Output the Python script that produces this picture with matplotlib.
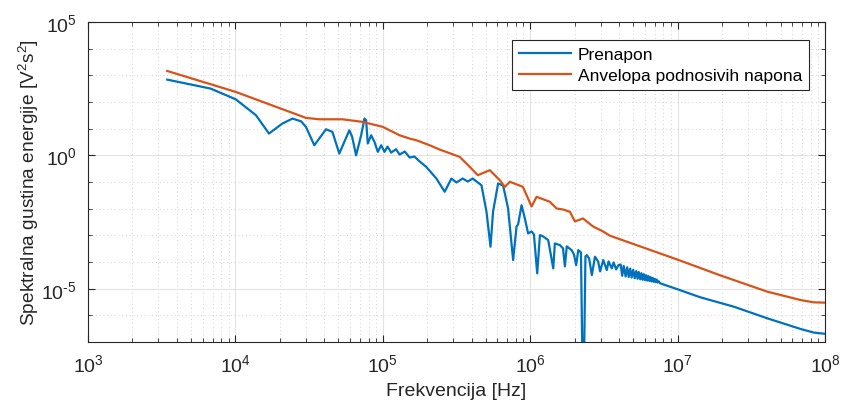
import matplotlib
matplotlib.use("Agg")
import matplotlib.pyplot as plt
from matplotlib.ticker import FixedLocator, FixedFormatter, NullFormatter

plt.rcParams['font.family'] = ['Liberation Sans', 'DejaVu Sans']
plt.rcParams['mathtext.fontset'] = 'custom'
plt.rcParams['mathtext.rm'] = 'Liberation Sans'
plt.rcParams['mathtext.it'] = 'Liberation Sans:italic'
plt.rcParams['axes.unicode_minus'] = False

# ---- data ----
f_prenapon = [3.45e3, 6.80e3, 1.006e4, 1.38e4, 1.69e4, 2.08e4, 2.44e4, 2.79e4, 3.01e4, 3.43e4,
              4.12e4, 4.55e4, 5.07e4, 5.93e4, 6.19e4, 6.59e4, 7.13e4, 7.51e4, 7.71e4, 7.91e4,
              8.34e4, 8.78e4, 9.25e4, 9.75e4, 1.027e5, 1.076e5, 1.14e5, 1.23e5, 1.30e5, 1.41e5,
              1.52e5, 1.64e5, 1.78e5, 1.97e5, 2.31e5, 2.63e5, 2.92e5, 3.16e5, 3.48e5, 3.77e5,
              4.07e5, 4.67e5, 5.05e5, 5.38e5, 5.6e5, 6.06e5, 6.55e5, 7.08e5, 7.66e5, 8.08e5,
              8.28e5, 8.74e5, 9.2e5, 9.68e5, 1.022e6, 1.06e6, 1.116e6, 1.164e6, 1.225e6, 1.325e6,
              1.434e6, 1.47e6, 1.59e6, 1.67e6, 1.72e6, 1.77e6, 1.91e6, 1.98e6, 2.05e6, 2.12e6,
              2.21e6, 2.29e6, 2.37e6, 2.42e6, 2.51e6, 2.62e6, 2.75e6, 2.89e6, 2.98e6, 3.13e6,
              3.31e6, 3.40e6, 3.58e6, 3.68e6, 3.83e6, 3.97e6,
              4.11e6, 4.21e6, 4.31e6, 4.44e6, 4.55e6, 4.66e6, 4.77e6, 4.88e6, 5.00e6, 5.12e6,
              5.24e6, 5.35e6, 5.45e6, 5.58e6, 5.68e6, 5.79e6, 5.90e6, 6.01e6, 6.12e6, 6.23e6,
              6.34e6, 6.45e6, 6.56e6, 6.68e6, 6.78e6, 6.89e6, 7.00e6, 7.11e6, 7.22e6, 7.33e6,
              7.45e6, 7.63e6,
              9.9e6, 1.43e7, 2.40e7, 4.06e7, 6.84e7, 8.41e7, 1.0e8]
s_prenapon = [690, 318, 126, 31.8, 6.55, 15.5, 23.9, 18.9, 11.7, 2.39,
              9.5, 7.59, 1.17, 8.71, 5.06, 1.0, 5.66, 23.9, 20.6, 2.77,
              5.66, 3.2, 1.35, 2.39, 1.35, 2.13, 1.27, 1.69, 1.07, 1.39,
              0.83, 0.90, 0.586, 0.371, 0.135, 0.043, 0.135, 0.0958, 0.135, 0.104,
              0.135, 0.0759, 0.00785, 3.74e-4, 0.00785, 0.0879, 0.074, 0.0102, 1.18e-4, 2.15e-3,
              2.56e-3, 0.0135, 4.3e-3, 1.18e-3, 1.4e-3, 1.08e-3, 3.74e-5, 1.02e-3, 9.1e-4, 6.6e-4,
              5.75e-5, 4.97e-4, 4.3e-4, 3.23e-4, 6.84e-5, 3.84e-4, 2.79e-4, 1.93e-4, 7.65e-5, 2.79e-4,
              2.29e-4, 1e-10, 1.62e-4, 1.81e-4, 1.36e-4, 3.23e-5, 1.58e-4, 1.05e-4, 4.45e-5, 1.18e-4,
              4.98e-5, 1.05e-4, 5.75e-5, 9.66e-5, 5.28e-5, 7.65e-5,
              8.0e-5, 3.04e-5, 7.14e-5, 2.86e-5, 6.33e-5, 2.74e-5, 5.66e-5, 2.61e-5, 5.1e-5, 2.47e-5,
              4.56e-5, 2.35e-5, 4.19e-5, 2.25e-5, 3.81e-5, 2.15e-5, 3.49e-5, 2.08e-5, 3.2e-5, 2.0e-5,
              2.96e-5, 1.93e-5, 2.72e-5, 1.86e-5, 2.54e-5, 1.8e-5, 2.35e-5, 1.75e-5, 2.19e-5, 1.69e-5,
              1.88e-5, 1.58e-5,
              9.66e-6, 4.72e-6, 2.12e-6, 7.72e-7, 3.07e-7, 2.25e-7, 2.03e-7]

f_anvelopa = [3.45e3, 1.006e4, 3.01e4, 3.71e4, 5.32e4, 7.28e4, 1.0e5, 1.30e5, 1.52e5, 1.69e5,
              2.08e5, 2.43e5, 3.32e5, 3.89e5, 4.41e5, 5.32e5, 6.22e5, 6.73e5, 7.28e5, 8.92e5,
              1.022e6, 1.105e6, 1.36e6, 1.51e6, 1.67e6, 1.86e6, 2.01e6, 2.28e6, 2.67e6, 3.12e6,
              3.48e6, 9.9e6, 1.95e7, 4.06e7, 6.84e7, 8.38e7, 1.0e8]
s_anvelopa = [1460, 239, 25.4, 22.5, 22.5, 18.0, 11.7, 5.66, 4.26, 3.68,
              2.39, 1.65, 0.879, 0.371, 0.180, 0.277, 0.117, 0.066, 0.102, 0.066,
              0.0121, 0.0279, 0.0181, 0.0102, 0.0093, 0.00766, 0.00332, 0.0043, 0.00215, 0.0014,
              9.66e-4, 1.25e-4, 3.15e-5, 7.72e-6, 3.74e-6, 3.07e-6, 2.99e-6]

x_ticks = [1e3, 1e4, 1e5, 1e6, 1e7, 1e8]
x_ticklabels = [r'$\mathregular{10^{3}}$', r'$\mathregular{10^{4}}$', r'$\mathregular{10^{5}}$',
                r'$\mathregular{10^{6}}$', r'$\mathregular{10^{7}}$', r'$\mathregular{10^{8}}$']
y_ticks = [1e-5, 1e0, 1e5]
y_ticklabels = [r'$\mathregular{10^{\text{-}5}}$', r'$\mathregular{10^{0}}$', r'$\mathregular{10^{5}}$']

labels = ['Prenapon', 'Anvelopa podnosivih napona']
colors = ['#0072BD', '#D95319']
txt = '#262626'

fig = plt.figure(figsize=(8.42, 4.06), dpi=100)
ax = fig.add_axes([0.1045, 0.1552, 0.8753, 0.7881])

ax.plot(f_prenapon, s_prenapon, color=colors[0], lw=1.6, label=labels[0])
ax.plot(f_anvelopa, s_anvelopa, color=colors[1], lw=1.6, label=labels[1])

ax.set_xscale('log')
ax.set_yscale('log')
ax.set_xlim(1e3, 1e8)
ax.set_ylim(1e-7, 1e5)

ax.xaxis.set_major_locator(FixedLocator(x_ticks))
ax.xaxis.set_major_formatter(FixedFormatter(x_ticklabels))
ax.xaxis.set_minor_locator(FixedLocator([m * 10.0**k for k in range(3, 8) for m in range(2, 10)]))
ax.xaxis.set_minor_formatter(NullFormatter())
ax.yaxis.set_major_locator(FixedLocator(y_ticks))
ax.yaxis.set_major_formatter(FixedFormatter(y_ticklabels))
ax.yaxis.set_minor_locator(FixedLocator([10.0**k for k in range(-7, 6) if k % 5 != 0]))
ax.yaxis.set_minor_formatter(NullFormatter())

ax.grid(True, which='major', color='#e3e3e3', lw=0.8, ls='-')
ax.grid(True, which='minor', color='#c4c4c4', lw=0.6, ls=(0, (1, 3.5)))
ax.set_axisbelow(True)

ax.tick_params(which='both', direction='in', top=True, right=True, colors=txt,
               labelsize=14, labelcolor=txt)
ax.tick_params(which='major', length=5, width=0.8, pad=8)
ax.tick_params(which='minor', length=3, width=0.6)
for sp in ax.spines.values():
    sp.set_color(txt)
    sp.set_linewidth(0.8)

ax.set_xlabel('Frekvencija [Hz]', fontsize=14, color=txt, labelpad=5)
ax.set_ylabel('Spektralna gustina energije [V$^2$s$^2$]', fontsize=13.8, color=txt, labelpad=0)

leg = ax.legend(loc='upper right', bbox_to_anchor=(0.983, 0.955), fontsize=12.5,
                frameon=True, fancybox=False, edgecolor=txt, framealpha=1,
                handlelength=3.0, borderpad=0.4, labelspacing=0.32, handletextpad=0.4,
                borderaxespad=0.2)
leg.get_frame().set_linewidth(0.8)

fig.savefig('out.png', dpi=100)
